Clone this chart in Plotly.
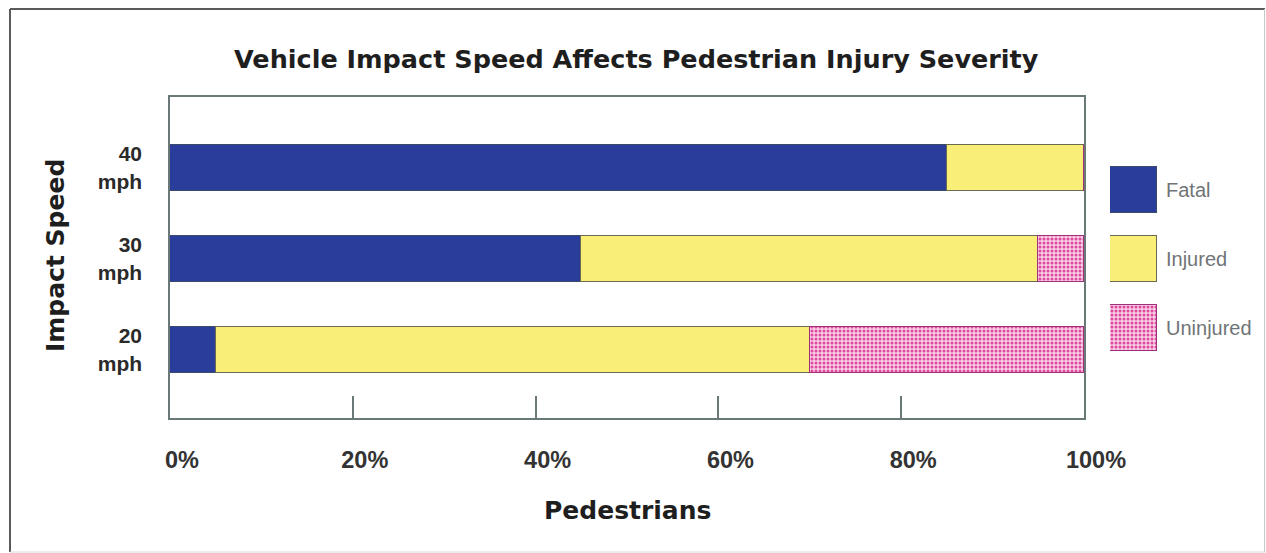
import plotly.graph_objects as go

speeds = ["20<br>mph", "30<br>mph", "40<br>mph"]
series = ["Fatal", "Injured", "Uninjured"]
fatal = [5, 45, 85]
injured = [65, 50, 15]
uninjured = [30, 5, 0]
values = {"Fatal": fatal, "Injured": injured, "Uninjured": uninjured}
x_ticks = [0, 20, 40, 60, 80, 100]
x_ticktext = ["0%", "20%", "40%", "60%", "80%", "100%"]

styles = {
    "Fatal": dict(color="#2b3d9a", line=dict(color="#3a4a6a", width=1)),
    "Injured": dict(color="#f9ef78", line=dict(color="#6a6a50", width=1)),
    "Uninjured": dict(color="#f4b6d8", line=dict(color="#a0307a", width=1),
                      pattern=dict(shape=".", fgcolor="#e0489e", bgcolor="#f8d0e6",
                                   size=4, solidity=0.45, fillmode="replace")),
}

W, H = 1266, 553
L, T, B, R = 170, 97, 135, 0
plot_w = W - L - R
main_w = 914
dom_main = main_w / plot_w

TITLE_FONT = "DejaVu Sans, Liberation Sans, Arial"
TEXT_FONT = "Liberation Sans, Arial"

fig = go.Figure()
for s in series:
    fig.add_trace(go.Bar(
        y=speeds, x=values[s], name=s, orientation="h",
        marker=styles[s], width=0.505, showlegend=False,
        xaxis="x", yaxis="y",
    ))

# legend swatches drawn as bars on a small side axis
for s in series:
    fig.add_trace(go.Bar(
        y=[s], x=[1], orientation="h", marker=styles[s], width=0.667,
        showlegend=False, xaxis="x2", yaxis="y2", hoverinfo="skip",
    ))

def px_x(p):
    return (p - L) / plot_w

def px_y(p):
    return (H - B - p) / (H - T - B)

annotations = [
    dict(text="<b>Vehicle Impact Speed Affects Pedestrian Injury Severity</b>",
         x=px_x(636), y=px_y(59), xref="paper", yref="paper", showarrow=False,
         font=dict(size=25.5, color="#1e1e1e", family=TITLE_FONT),
         xanchor="center", yanchor="middle"),
    dict(text="<b>Pedestrians</b>", x=px_x(627), y=px_y(510), xref="paper", yref="paper",
         showarrow=False, font=dict(size=25, color="#1e1e1e", family=TITLE_FONT),
         xanchor="center", yanchor="middle"),
    dict(text="<b>Impact Speed</b>", x=px_x(55), y=px_y(256), xref="paper", yref="paper",
         showarrow=False, textangle=-90,
         font=dict(size=25, color="#1e1e1e", family=TITLE_FONT),
         xanchor="center", yanchor="middle"),
]
for s in series:
    annotations.append(dict(text=s, x=px_x(1164), y=s, xref="paper", yref="y2",
                            showarrow=False, xanchor="left", yanchor="middle",
                            font=dict(size=20, color="#707476", family=TEXT_FONT)))

shapes = [
    dict(type="line", xref="paper", yref="paper", x0=px_x(10), x1=px_x(10), y0=px_y(9), y1=px_y(552),
         line=dict(color="#5a5a5a", width=2)),
    dict(type="line", xref="paper", yref="paper", x0=px_x(10), x1=px_x(1265), y0=px_y(9), y1=px_y(9),
         line=dict(color="#5a5a5a", width=2)),
    dict(type="line", xref="paper", yref="paper", x0=px_x(1264.5), x1=px_x(1264.5), y0=px_y(9), y1=px_y(552),
         line=dict(color="#c8c8c8", width=1)),
    dict(type="line", xref="paper", yref="paper", x0=px_x(10), x1=px_x(1265), y0=px_y(552), y1=px_y(552),
         line=dict(color="#d8d8d8", width=1)),
]

fig.update_layout(
    width=W, height=H, autosize=False,
    margin=dict(l=L, r=R, t=T, b=B, autoexpand=False),
    paper_bgcolor="white", plot_bgcolor="white",
    barmode="stack", bargap=0,
    annotations=annotations, shapes=shapes,
    font=dict(family=TEXT_FONT, color="#222"),
    xaxis=dict(domain=[0, dom_main], range=[0, 100], tickvals=x_ticks, ticktext=x_ticktext,
               ticks="inside", ticklen=22, tickcolor="#6a7878", tickwidth=1.5,
               showline=True, linecolor="#6a7878", linewidth=1.5, mirror=True,
               showgrid=False, zeroline=False, fixedrange=True, automargin=False,
               tickfont=dict(size=23.5, color="#333333", family=TEXT_FONT, weight="bold"),
               ticklabelstandoff=20, ticklabelshift=12),
    yaxis=dict(domain=[0, 1], type="category", categoryorder="array", categoryarray=speeds,
               range=[-0.75, 2.775], ticks="", showline=True, linecolor="#6a7878",
               linewidth=1.5, mirror=True, showgrid=False, zeroline=False, fixedrange=True,
               automargin=False,
               tickfont=dict(size=21, color="#2a2a2a", family=TEXT_FONT, weight="bold"),
               ticklabelstandoff=22),
    xaxis2=dict(domain=[px_x(1110), px_x(1157)], range=[0, 1], visible=False, anchor="y2",
                fixedrange=True, automargin=False),
    yaxis2=dict(domain=[0, 1], type="category", categoryorder="array",
                categoryarray=["Uninjured", "Injured", "Fatal"], range=[-1.304, 3.355],
                visible=False, anchor="x2", fixedrange=True, automargin=False),
)

post = ("document.body.style.margin='0';document.body.style.padding='0';"
        "document.body.style.overflow='hidden';"
        "var gd=document.getElementById('{plot_id}');"
        "Plotly.relayout(gd,{width:%d,height:%d});" % (W, H))

fig.write_html("out.html", post_script=post, config={"displayModeBar": False})
